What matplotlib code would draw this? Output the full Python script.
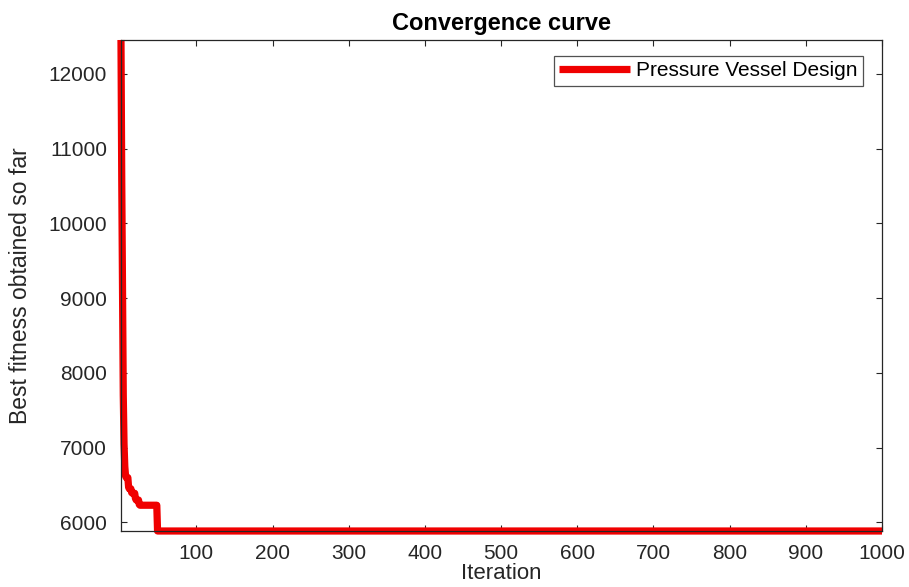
import matplotlib
matplotlib.use('Agg')
import matplotlib.pyplot as plt

# best fitness per iteration for the first 47 iterations, then flat
curve_head = [12455, 10580, 9200, 7700, 7050, 6750, 6620, 6600, 6600, 6600,
              6470, 6450, 6450, 6450, 6400, 6390, 6390, 6390, 6390, 6320,
              6300, 6300, 6300, 6300, 6240, 6230, 6230, 6230, 6230, 6230,
              6230, 6230, 6230, 6230, 6230, 6230, 6230, 6230, 6230, 6230,
              6230, 6230, 6230, 6230, 6230, 6230, 6230, 6230]
best_value = 5885.3
max_iter = 1000
curve = curve_head + [best_value] * (max_iter - len(curve_head))
iterations = list(range(1, max_iter + 1))

x_ticks = [100, 200, 300, 400, 500, 600, 700, 800, 900, 1000]
y_ticks = [6000, 7000, 8000, 9000, 10000, 11000, 12000]

plt.rcParams['font.family'] = ['Liberation Sans', 'DejaVu Sans']
grey = '#262626'

fig = plt.figure(figsize=(9.09, 5.87), dpi=100)
ax = fig.add_axes([0.1331, 0.0954, 0.8372, 0.8365])

ax.plot(iterations, curve, color='#f00000', lw=5.2,
        solid_capstyle='butt', solid_joinstyle='round', clip_on=False,
        label='Pressure Vessel Design')

ax.set_xlim(1, max_iter)
ax.set_ylim(min(curve), max(curve))
ax.set_xticks(x_ticks)
ax.set_yticks(y_ticks)
ax.tick_params(direction='in', length=4, width=0.8, top=True, right=True,
               labelsize=15, colors=grey)
ax.tick_params(axis='x', pad=9)
ax.tick_params(axis='y', pad=10)
for s in ax.spines.values():
    s.set_color(grey)
    s.set_linewidth(0.9)

ax.set_title('Convergence curve', fontsize=17, fontweight='bold', pad=7)
ax.set_xlabel('Iteration', fontsize=16, color=grey, labelpad=0)
ax.set_ylabel('Best fitness obtained so far', fontsize=16.5, color=grey, labelpad=12)

leg = ax.legend(loc='upper right', bbox_to_anchor=(0.975, 0.967), fontsize=15,
                frameon=True, fancybox=False, borderaxespad=0, borderpad=0.25,
                handlelength=3.4, handletextpad=0.3)
leg.get_frame().set_edgecolor(grey)
leg.get_frame().set_linewidth(0.9)

fig.savefig('out.png', dpi=100)
